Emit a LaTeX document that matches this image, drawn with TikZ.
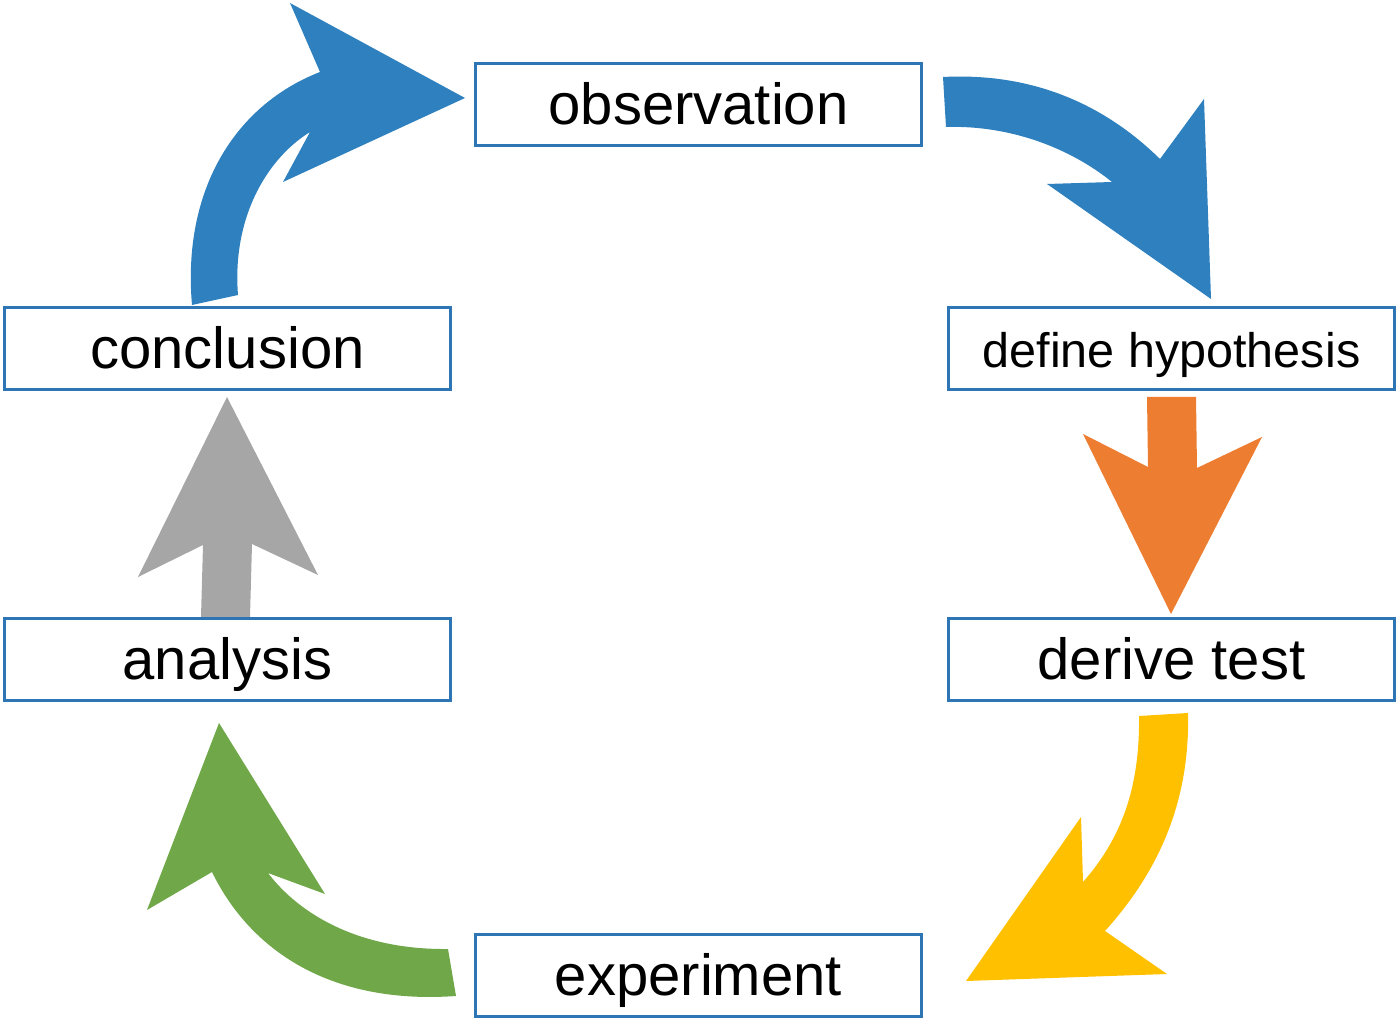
\documentclass[tikz,border=0pt]{standalone}
\usepackage{fontspec}
\setmainfont{Liberation Sans}
\definecolor{boxblue}{RGB}{46,117,182}
\definecolor{arrblue}{RGB}{46,128,190}
\definecolor{arrorange}{RGB}{237,125,49}
\definecolor{arrgrey}{RGB}{166,166,166}
\definecolor{arryellow}{RGB}{255,192,0}
\definecolor{arrgreen}{RGB}{112,168,73}

\begin{document}
\begin{tikzpicture}[x=0.01cm, y=-0.01cm,
    stagebox/.style={draw=boxblue, line width=0.8pt, minimum width=4.46cm, minimum height=0.82cm,
        inner sep=0pt, text height=11.8pt, text depth=0.4pt, font=\fontsize{16.5}{20}\selectfont}]
    \useasboundingbox (0,0) rectangle (1400,1022);

    \fill[arrblue] (192,305) .. controls (182,190) and (235,105) .. (320,72) -- (290,3) -- (465,98)
        -- (283,182) -- (310,132) .. controls (265,160) and (232,220) .. (238,295) -- cycle; % conclusion to observation
    \fill[arrblue] (943,77) .. controls (1040,72) and (1110,110) .. (1160,159) -- (1204,99) -- (1211,299)
        -- (1047,184) -- (1112,182) .. controls (1070,148) and (1010,125) .. (946,127) -- cycle; % observation to hypothesis
    \fill[arrorange] (1147,397) -- (1196,397) -- (1197,468) -- (1262,437) -- (1171,614)
        -- (1083,434) -- (1148,467) -- cycle; % hypothesis to test
    \fill[arryellow] (1188,713) .. controls (1190,800) and (1160,870) .. (1105,931) -- (1167,974) -- (966,981)
        -- (1081,817) -- (1083,882) .. controls (1120,840) and (1140,790) .. (1139,716) -- cycle; % test to experiment
    \fill[arrgreen] (456,996) .. controls (330,1005) and (250,950) .. (212,872) -- (147,910) -- (219,723)
        -- (325,894) -- (268,873) .. controls (300,915) and (360,950) .. (448,949) -- cycle; % experiment to analysis
    \fill[arrgrey] (201,617) -- (250,617) -- (252,544) -- (318,575) -- (227,397)
        -- (138,577) -- (203,545) -- cycle; % analysis to conclusion

    \node[stagebox] (obs) at (698.5,104.5) {observation};
    \node[stagebox, text height=10.6pt, text depth=0pt, font=\fontsize{13.8}{17}\selectfont] (hyp) at (1171.5,348.5) {define hypothesis};
    \node[stagebox] (der) at (1171.5,659.5) {derive test};
    \node[stagebox] (exp) at (698.5,975.5) {experiment};
    \node[stagebox] (ana) at (227.5,659.5) {analysis};
    \node[stagebox] (con) at (227.5,348.5) {conclusion};
\end{tikzpicture}
\end{document}
